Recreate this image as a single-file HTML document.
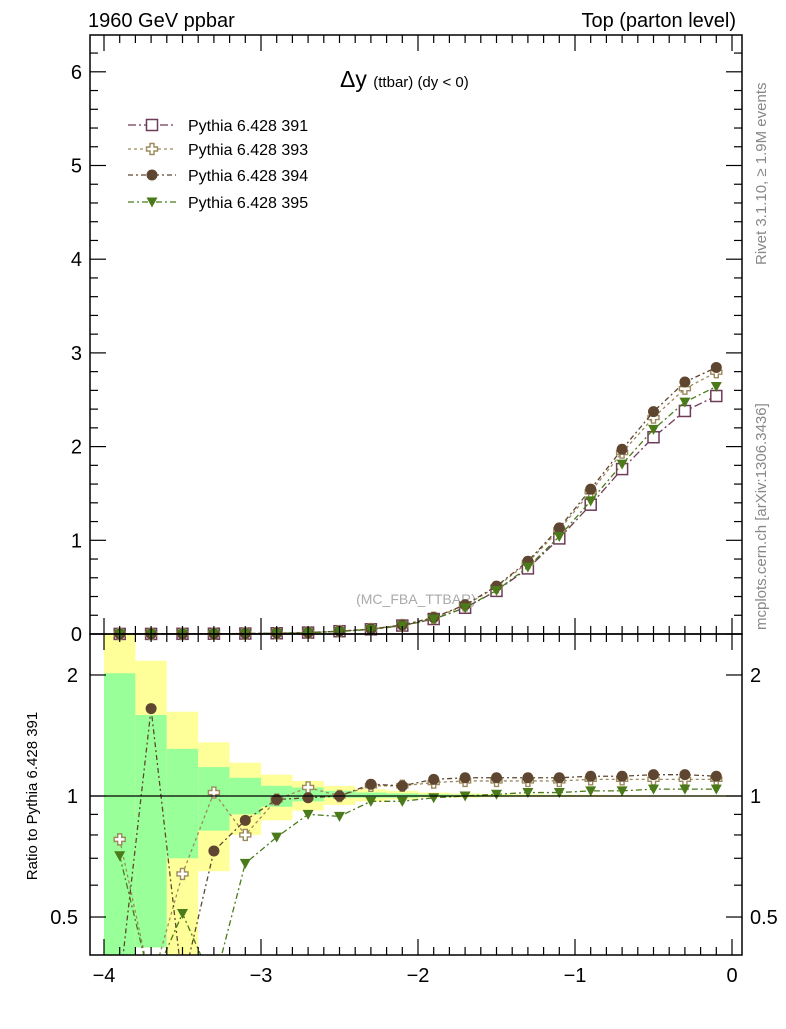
<!DOCTYPE html>
<html><head><meta charset="utf-8"><style>
body{margin:0;background:#fff;width:786px;height:1024px;overflow:hidden}
svg{font-family:"Liberation Sans",Arial,sans-serif}
</style></head><body>
<svg id="chart" width="786" height="1024" viewBox="0 0 786 1024" xmlns="http://www.w3.org/2000/svg">
<text x="88" y="27" font-size="20">1960 GeV ppbar</text>
<text x="736" y="27" font-size="20" text-anchor="end">Top (parton level)</text>
<text x="340" y="87" font-size="23">Δy <tspan font-size="15">(ttbar) (dy &lt; 0)</tspan></text>
<text transform="translate(766,265) rotate(-90)" font-size="15" fill="#888">Rivet 3.1.10, ≥ 1.9M events</text>
<text transform="translate(766,630) rotate(-90)" font-size="15" fill="#888">mcplots.cern.ch [arXiv:1306.3436]</text>
<text x="416" y="604" font-size="14" fill="#aaa" text-anchor="middle">(MC_FBA_TTBAR)</text>
<text transform="translate(37,796) rotate(-90)" font-size="15" text-anchor="middle">Ratio to Pythia 6.428 391</text>
<g id="bands"></g><g id="grid"></g><g id="series"></g><g id="axes"></g><g id="legend"></g>
</svg>
<script>
const centers=[-3.9,-3.7,-3.5,-3.3,-3.1,-2.9,-2.7,-2.5,-2.3,-2.1,-1.9,-1.7,-1.5,-1.3,-1.1,-0.9,-0.7,-0.5,-0.3,-0.1];
const ref391=[0.001,0.001,0.002,0.003,0.005,0.008,0.015,0.03,0.05,0.09,0.16,0.28,0.46,0.70,1.02,1.38,1.76,2.10,2.38,2.54];
const ratio393=[0.78,0.3,0.64,1.02,0.80,0.98,1.05,1.0,1.06,1.06,1.08,1.09,1.09,1.09,1.09,1.10,1.10,1.10,1.10,1.10];
const ratio394=[0.3,1.65,0.3,0.73,0.87,0.98,0.99,1.0,1.07,1.06,1.10,1.11,1.11,1.11,1.11,1.12,1.12,1.13,1.13,1.12];
const ratio395=[0.71,0.3,0.51,0.3,0.68,0.79,0.90,0.89,0.97,0.97,0.99,1.00,1.01,1.02,1.02,1.03,1.03,1.04,1.04,1.04];
const yellowHi=[2.6,2.17,1.62,1.36,1.21,1.13,1.09,1.06,1.04,1.03,1.02,1.015,1.012,1.01,1.008,1.007,1.006,1.005,1.005,1.005];
const greenHi=[2.02,1.59,1.31,1.18,1.11,1.06,1.05,1.03,1.02,1.015,1.01,1.008,1.006,1.005,1.004,1.003,1.003,1.002,1.002,1.002];
const greenLo=[0.3,0.42,0.70,0.82,0.90,0.94,0.97,0.99,0.99,0.99,0.995,0.996,0.997,0.997,0.998,0.998,0.998,0.998,0.998,0.998];
const yellowLo=[0.3,0.42,0.3,0.65,0.80,0.87,0.92,0.95,0.97,0.98,0.99,0.99,0.993,0.994,0.995,0.995,0.996,0.996,0.996,0.996];
const xTicks=[-4,-3,-2,-1,0];
const mainTicks=[0,1,2,3,4,5,6];
const ratioTicks=[0.5,1,2];
const NS="http://www.w3.org/2000/svg";
const L=90,R=742,T=35,M=634,B=955;
const X=v=>104+(v+4)*157;
const Y=v=>634-v*93.7;
const RY=r=>{let y=796-402*Math.log10(r);return Math.max(T,Math.min(B+30,y));};
const RYc=r=>Math.max(M,Math.min(B,796-402*Math.log10(r)));
function el(t,a,p){const e=document.createElementNS(NS,t);for(const k in a)e.setAttribute(k,a[k]);document.getElementById(p).appendChild(e);return e;}
centers.forEach((c,i)=>{
 let x0=X(c-0.1),w=157*0.2;
 let e=el('rect',{x:x0,y:RYc(yellowHi[i]),width:w,height:RYc(yellowLo[i])-RYc(yellowHi[i]),fill:'#ffff99'},'bands');
 
 
 e=el('rect',{x:x0,y:RYc(greenHi[i]),width:w,height:RYc(greenLo[i])-RYc(greenHi[i]),fill:'#99ff99'},'bands');
 
 
});
const series=[
 {name:'391',col:'#6e3b58',m:'sq',dash:'8,3,2,3',main:ref391,ratio:centers.map(()=>1)},
 {name:'393',col:'#9c8a5e',m:'cross',dash:'3,3',main:ref391.map((v,i)=>v*ratio393[i]),ratio:ratio393},
 {name:'394',col:'#5e4630',m:'circ',dash:'5,3,2,3',main:ref391.map((v,i)=>v*ratio394[i]),ratio:ratio394},
 {name:'395',col:'#4a7a1a',m:'tri',dash:'6,3,2,3',main:ref391.map((v,i)=>v*ratio395[i]),ratio:ratio395}];
function marker(s,x,y,p){
 let e;
 if(s.m==='sq')e=el('rect',{x:x-5.5,y:y-5.5,width:11,height:11,fill:'#fff',stroke:s.col,'stroke-width':1.5},p);
 else if(s.m==='circ')e=el('circle',{cx:x,cy:y,r:5.5,fill:s.col},p);
 else if(s.m==='tri')e=el('path',{d:`M${x-5.5},${y-4.5}L${x+5.5},${y-4.5}L${x},${y+5.5}Z`,fill:s.col},p);
 else e=el('path',{d:`M${x-2},${y-5.5}h4v3.5h3.5v4h-3.5v3.5h-4v-3.5h-3.5v-4h3.5Z`,fill:'#fff',stroke:s.col,'stroke-width':1.4},p);
 return e;
}
const defs=document.createElementNS(NS,'defs');defs.innerHTML='<clipPath id="rclip"><rect x="90" y="634" width="652" height="321"/></clipPath>';document.getElementById('chart').prepend(defs);
series.forEach(s=>{
 let pts=centers.map((c,i)=>X(c)+','+Y(s.main[i])).join(' ');
 let e=el('polyline',{points:pts,fill:'none',stroke:s.col,'stroke-width':1.3,'stroke-dasharray':s.dash},'series');
 
 
 centers.forEach((c,i)=>{const m=marker(s,X(c),Y(s.main[i]),'series');
  
  });
 if(s.name!=='391'){
  let rp=centers.map((c,i)=>X(c)+','+RY(s.ratio[i])).join(' ');
  let g=el('g',{'clip-path':'url(#rclip)'},'series');
  let l=document.createElementNS(NS,'polyline');
  l.setAttribute('points',rp);l.setAttribute('fill','none');l.setAttribute('stroke',s.col);l.setAttribute('stroke-width',1.3);l.setAttribute('stroke-dasharray',s.dash);
  
  
  g.appendChild(l);
  centers.forEach((c,i)=>{if(s.ratio[i]>0.41&&s.ratio[i]<2.5){const m=marker(s,X(c),RY(s.ratio[i]),'series');
   
   }});
 }
});
el('line',{x1:L,x2:R,y1:RY(1),y2:RY(1),stroke:'#000','stroke-width':1.3},'axes');
el('rect',{x:L,y:T,width:R-L,height:M-T,fill:'none',stroke:'#000','stroke-width':1.5},'axes');
el('rect',{x:L,y:M,width:R-L,height:B-M,fill:'none',stroke:'#000','stroke-width':1.5},'axes');
for(let k=-40;k<=0;k++){const v=k/10,x=X(v),maj=k%10===0,len=maj?16:8;
 [[T,1],[M,-1],[M,1],[B,-1]].forEach(([y0,d])=>el('line',{x1:x,x2:x,y1:y0,y2:y0+d*len,stroke:'#000','stroke-width':1.2},'axes'));}
xTicks.forEach(v=>{const t=el('text',{x:X(v),y:982,'font-size':20,'text-anchor':'middle'},'axes');t.textContent=v<0?'−'+(-v):v;
 
 });
for(let k=0;k<=32;k++){const v=k/5,y=Y(v);if(y<T)break;const maj=k%5===0,len=maj?16:8;
 el('line',{x1:L,x2:L+len,y1:y,y2:y,stroke:'#000','stroke-width':1.2},'axes');
 el('line',{x1:R,x2:R-len,y1:y,y2:y,stroke:'#000','stroke-width':1.2},'axes');}
mainTicks.forEach(v=>{const t=el('text',{x:82,y:Y(v)+7,'font-size':20,'text-anchor':'end'},'axes');t.textContent=v;
 
 });
[0.4,0.5,0.6,0.7,0.8,0.9,1,2].forEach(v=>{const y=RY(v);if(y>B||y<M)return;const maj=(v===0.5||v===1||v===2),len=maj?16:8;
 el('line',{x1:L,x2:L+len,y1:y,y2:y,stroke:'#000','stroke-width':1.2},'axes');
 el('line',{x1:R,x2:R-len,y1:y,y2:y,stroke:'#000','stroke-width':1.2},'axes');});
ratioTicks.forEach(v=>{let t=el('text',{x:78,y:RY(v)+7,'font-size':20,'text-anchor':'end'},'axes');t.textContent=v;
 
 
 t=el('text',{x:750,y:RY(v)+7,'font-size':20},'axes');t.textContent=v;
 
 });
const ly=[125,149,175,202];
series.forEach((s,i)=>{
 let l=el('line',{x1:128,x2:176,y1:ly[i],y2:ly[i],stroke:s.col,'stroke-width':1.3,'stroke-dasharray':s.dash},'legend');
 
 
 const m=marker(s,152,ly[i],'legend');
 
 
 const t=el('text',{x:188,y:ly[i]+6,'font-size':16},'legend');t.textContent='Pythia 6.428 '+s.name;
 
 
});
</script>
</body></html>
